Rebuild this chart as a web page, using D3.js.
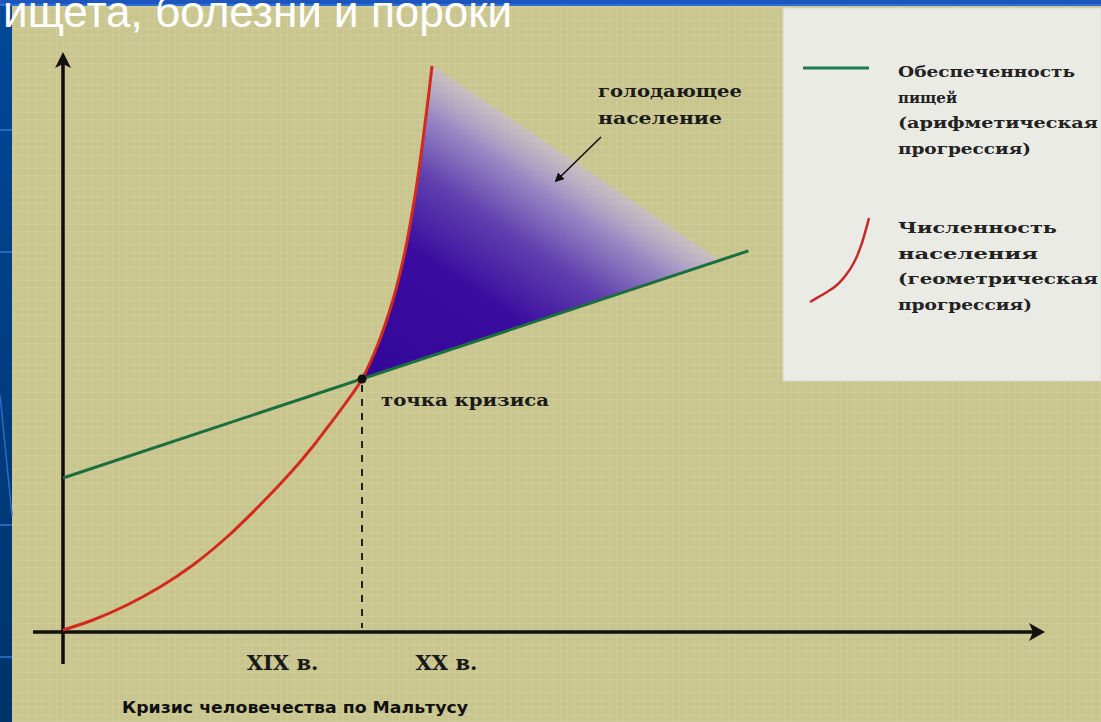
<!DOCTYPE html>
<html>
<head>
<meta charset="utf-8">
<script src="https://cdn.jsdelivr.net/npm/d3@7"></script>
<style>
  html, body { margin: 0; padding: 0; background: #c9c58f; overflow: hidden; }
  svg { display: block; }
</style>
</head>
<body>
<svg id="chart" width="1101" height="722"></svg>
<script>
// ---- data (abstract units) ----
const foodX = [0, 69.8];                 // food supply (arithmetic progression)
const foodY = [26.3, 65.6];
const popX = [0, 3.05, 6.52, 9.88, 13.24, 16.70, 20.06, 23.42, 25.15, 26.88, 28.72, 30.45,
              32.08, 33.60, 34.73, 35.34, 36.05, 36.56, 37.07, 37.58];   // population (geometric)
const popY = [0, 1.73, 4.33, 7.44, 11.25, 16.09, 21.63, 27.68, 31.14, 34.95, 39.10, 43.43,
              49.48, 57.09, 64.71, 70.07, 77.34, 83.56, 90.31, 97.58];
const crisisPoint = [30.45, 43.43];
const hungerEdgeX = [37.9, 66.9];        // fading edge of the "starving population" area
const hungerEdgeY = [97.3, 64.0];
const centuryTicks = [22.3, 39.0];
const centuryLabels = ["XIX в.", "XX в."];
const titleText = "Нищета, болезни и пороки";
const captionText = "Кризис человечества по Мальтусу";
const hungerLabel = ["голодающее", "население"];
const crisisLabel = "точка кризиса";
const legendFood = ["Обеспеченность", "пищей", "(арифметическая", "прогрессия)"];
const legendPop = ["Численность", "населения", "(геометрическая", "прогрессия)"];

const W = 1101, H = 722;
const svg = d3.select("#chart");
const defs = svg.append("defs");

// background
svg.append("rect").attr("width", W).attr("height", H).attr("fill", "#c9c58f");
const pat = defs.append("pattern").attr("id", "grain").attr("width", 7).attr("height", 7)
  .attr("patternUnits", "userSpaceOnUse");
pat.append("path").attr("d", "M0 0.5H7M0.5 0V7").attr("stroke", "#dcd9a8").attr("stroke-width", 1).attr("opacity", 0.35);
svg.append("rect").attr("x", 12).attr("y", 6).attr("width", W - 12).attr("height", H - 6).attr("fill", "url(#grain)");

// blue slide frame
const blueGrad = defs.append("linearGradient").attr("id", "blueGrad").attr("x1", 0).attr("y1", 0).attr("x2", 0).attr("y2", 1);
blueGrad.append("stop").attr("offset", 0).attr("stop-color", "#00489a");
blueGrad.append("stop").attr("offset", 1).attr("stop-color", "#00336a");
svg.append("rect").attr("x", 0).attr("y", 0).attr("width", 12).attr("height", H).attr("fill", "url(#blueGrad)");
svg.append("rect").attr("x", 0).attr("y", 0).attr("width", W).attr("height", 6).attr("fill", "#1b55bd");
svg.append("rect").attr("x", 0).attr("y", 4).attr("width", W).attr("height", 2).attr("fill", "#2f6fd8");
[130, 252, 525, 657].forEach(y => svg.append("line").attr("x1", 0).attr("x2", 12).attr("y1", y).attr("y2", y)
  .attr("stroke", "#2d78d0").attr("stroke-width", 1.5));
svg.append("line").attr("x1", 0).attr("y1", 395).attr("x2", 12).attr("y2", 515).attr("stroke", "#2a6dc4").attr("stroke-width", 1.5);

// legend box
svg.append("rect").attr("x", 783).attr("y", 8).attr("width", W - 783).attr("height", 373)
  .attr("fill", "#ebebe5").attr("stroke", "#d8d8cc").attr("stroke-width", 1);

// scales
const x = d3.scaleLinear().domain([0, 100]).range([63, 1045]);
const y = d3.scaleLinear().domain([0, 100]).range([630, 52]);

// hunger area with gradient
const cx = x(crisisPoint[0]), cy = y(crisisPoint[1]);
const ex1 = x(hungerEdgeX[0]), ey1 = y(hungerEdgeY[0]), ex2 = x(hungerEdgeX[1]), ey2 = y(hungerEdgeY[1]);
let nx = (ey2 - ey1), ny = -(ex2 - ex1);
const nl = Math.hypot(nx, ny); nx /= nl; ny /= nl;
const dist = Math.abs((cx - ex1) * nx + (cy - ey1) * ny);
const hg = defs.append("linearGradient").attr("id", "hungerGrad").attr("gradientUnits", "userSpaceOnUse")
  .attr("x1", cx).attr("y1", cy).attr("x2", cx + nx * dist).attr("y2", cy + ny * dist);
[[0, "#32079a", 1], [0.45, "#3a0c9f", 1], [0.68, "#5a38b0", 0.95], [0.86, "#917fca", 0.88], [1, "#c6b9e4", 0.55]]
  .forEach(s => hg.append("stop").attr("offset", s[0]).attr("stop-color", s[1]).attr("stop-opacity", s[2]));

const popPts = popX.map((v, i) => [v, popY[i]]);
const curve = d3.curveCatmullRom.alpha(0.5);
const lineGen = d3.line().x(d => x(d[0])).y(d => y(d[1]));
const curveGen = d3.line().x(d => x(d[0])).y(d => y(d[1])).curve(curve);
const upper = popPts.filter(p => p[0] >= crisisPoint[0]);
const regionD = curveGen(upper) + `L${ex1},${ey1}L${ex2},${ey2}L${cx},${cy}Z`;
svg.append("path").attr("d", regionD).attr("fill", "url(#hungerGrad)");

// axes
const xAxis = d3.axisBottom(x).tickValues(centuryTicks).tickSize(0).tickPadding(23)
  .tickFormat((d, i) => centuryLabels[i]);
const gx = svg.append("g").attr("transform", `translate(0,${y(0) + 2})`).call(xAxis);
gx.select(".domain").remove();
gx.selectAll("text").attr("font-family", "'DejaVu Serif', serif").attr("font-weight", "bold")
  .attr("font-size", 21).attr("fill", "#1a1a1a");

svg.append("line").attr("x1", 33).attr("x2", x(100) - 10).attr("y1", y(0) + 2).attr("y2", y(0) + 2)
  .attr("stroke", "#111").attr("stroke-width", 3.5);
svg.append("path").attr("d", `M${x(100)},${y(0) + 2} l-16,-9 l4,9 l-4,9 Z`).attr("fill", "#111");
svg.append("line").attr("x1", x(0)).attr("x2", x(0)).attr("y1", 664).attr("y2", y(100) + 10)
  .attr("stroke", "#150a14").attr("stroke-width", 3.5);
svg.append("path").attr("d", `M${x(0)},${y(100)} l-8,16 l8,-4 l8,4 Z`).attr("fill", "#111");

// dashed crisis line
svg.append("line").attr("x1", cx).attr("x2", cx).attr("y1", cy + 6).attr("y2", y(0) - 2)
  .attr("stroke", "#222").attr("stroke-width", 2).attr("stroke-dasharray", "7,7");

// food line
svg.append("path").attr("d", lineGen(foodX.map((v, i) => [v, foodY[i]])))
  .attr("fill", "none").attr("stroke", "#1d6e3e").attr("stroke-width", 3);

// population curve
svg.append("path").attr("d", curveGen(popPts))
  .attr("fill", "none").attr("stroke", "#d42a1e").attr("stroke-width", 3);

// crisis point
svg.append("circle").attr("cx", cx).attr("cy", cy).attr("r", 4.5).attr("fill", "#111");

// labels
const serif = "'DejaVu Serif', serif";
svg.append("text").attr("x", 381).attr("y", 406).text(crisisLabel)
  .attr("font-family", serif).attr("font-weight", "bold").attr("font-size", 17).attr("fill", "#1a1a1a")
  .attr("textLength", 168).attr("lengthAdjust", "spacingAndGlyphs");
hungerLabel.forEach((t, i) => svg.append("text").attr("x", 598).attr("y", 97 + i * 27).text(t)
  .attr("font-family", serif).attr("font-weight", "bold").attr("font-size", 16.5).attr("fill", "#1a1a1a")
  .attr("textLength", i === 0 ? 144 : 124).attr("lengthAdjust", "spacingAndGlyphs"));
// pointer arrow
defs.append("marker").attr("id", "arr").attr("viewBox", "0 0 10 10").attr("refX", 8).attr("refY", 5)
  .attr("markerWidth", 6).attr("markerHeight", 6).attr("orient", "auto")
  .append("path").attr("d", "M0,0 L10,5 L0,10 Z").attr("fill", "#111");
svg.append("line").attr("x1", 601).attr("y1", 137).attr("x2", 556).attr("y2", 181)
  .attr("stroke", "#111").attr("stroke-width", 1.6).attr("marker-end", "url(#arr)");

// legend
svg.append("line").attr("x1", 803).attr("x2", 869).attr("y1", 68).attr("y2", 68)
  .attr("stroke", "#1f7a58").attr("stroke-width", 3);
const lx = d3.scaleLinear().domain([popX[8], popX[popX.length - 1]]).range([810, 869]);
const ly = d3.scaleLinear().domain([popY[8], popY[popY.length - 1]]).range([302, 218]);
svg.append("path").attr("d", d3.line().x(d => lx(d[0])).y(d => ly(d[1])).curve(curve)(popPts.slice(8)))
  .attr("fill", "none").attr("stroke", "#c52a26").attr("stroke-width", 2.5);
const foodW = [177, null, 200, 133], popW = [159, 140, 200, 134];
function legendText(lines, widths, y0) {
  lines.forEach((t, i) => {
    const el = svg.append("text").attr("x", 898).attr("y", y0 + i * 25.5).text(t)
      .attr("font-family", serif).attr("font-weight", "bold").attr("font-size", 15).attr("fill", "#222");
    if (widths[i]) el.attr("textLength", widths[i]).attr("lengthAdjust", "spacingAndGlyphs");
  });
}
legendText(legendFood, foodW, 77);
legendText(legendPop, popW, 233);

// caption
svg.append("text").attr("x", 122).attr("y", 713).text(captionText)
  .attr("font-family", "'DejaVu Sans', sans-serif").attr("font-weight", "bold").attr("font-size", 15)
  .attr("fill", "#111").attr("textLength", 346).attr("lengthAdjust", "spacingAndGlyphs");

// slide title (partly off-screen in the original slide)
svg.append("text").attr("x", 512).attr("y", 27).attr("text-anchor", "end").text(titleText)
  .attr("font-family", "'Liberation Sans', Arial, sans-serif").attr("font-size", 44).attr("fill", "#ffffff");
</script>
</body>
</html>
